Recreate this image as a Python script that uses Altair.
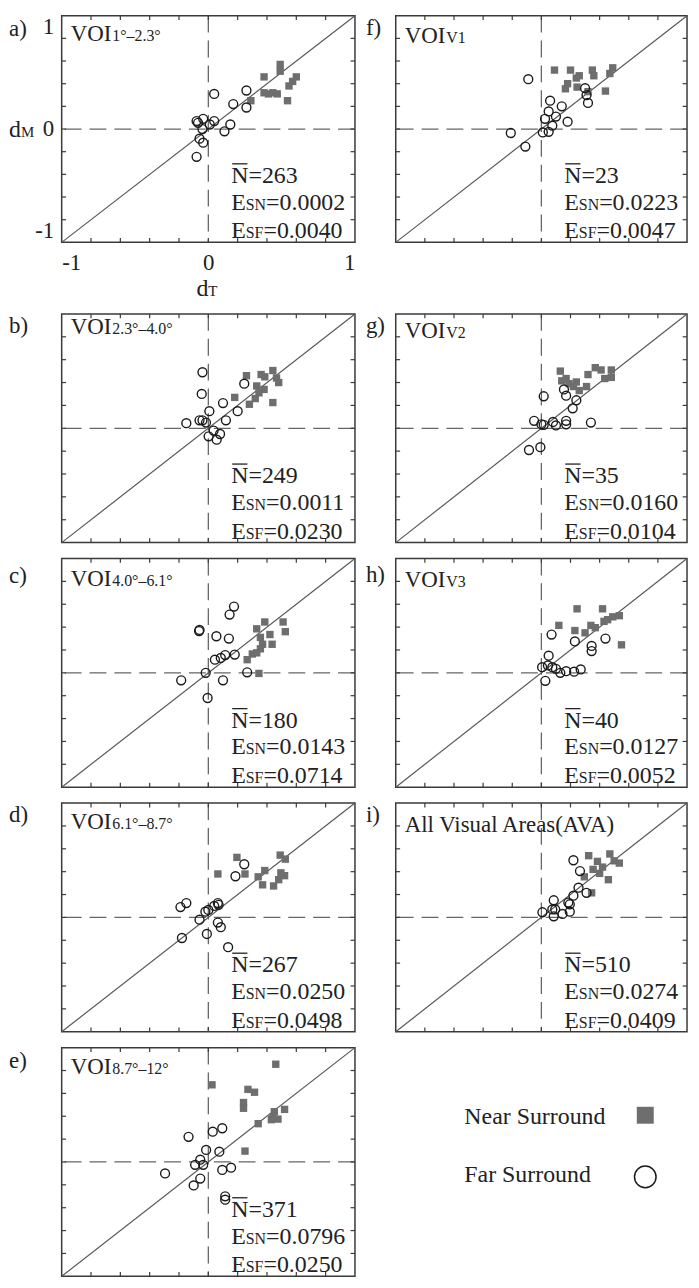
import altair as alt
import pandas as pd

# ---------------- data ----------------
PANELS = ["a", "b", "c", "d", "e", "f", "g", "h", "i"]
TITLE_MAIN = ["VOI", "VOI", "VOI", "VOI", "VOI", "VOI", "VOI", "VOI", "All Visual Areas(AVA)"]
TITLE_SUB = ["1°–2.3°", "2.3°–4.0°", "4.0°–6.1°", "6.1°–8.7°", "8.7°–12°", "V1", "V2", "V3", ""]
N_MEAN = [263, 249, 180, 267, 371, 23, 35, 40, 510]
E_SN = ["0.0002", "0.0011", "0.0143", "0.0250", "0.0796", "0.0223", "0.0160", "0.0127", "0.0274"]
E_SF = ["0.0040", "0.0230", "0.0714", "0.0498", "0.0250", "0.0047", "0.0104", "0.0052", "0.0409"]

a_near_x = [0.38, 0.49, 0.49, 0.60, 0.575, 0.55, 0.38, 0.41, 0.44, 0.47, 0.29, 0.54]
a_near_y = [0.46, 0.57, 0.51, 0.46, 0.42, 0.38, 0.32, 0.31, 0.32, 0.31, 0.25, 0.25]
a_far_x = [0.04, 0.26, 0.17, 0.26, -0.07, -0.035, 0.04, 0.15, 0.11, -0.04, -0.08, -0.06, -0.035, -0.08, 0.01]
a_far_y = [0.31, 0.34, 0.22, 0.19, 0.055, 0.09, 0.07, 0.04, -0.02, 0.0, 0.07, -0.085, -0.12, -0.245, 0.04]

b_near_x = [0.26, 0.18, 0.36, 0.385, 0.44, 0.465, 0.48, 0.33, 0.38, 0.345, 0.32, 0.28, 0.44]
b_near_y = [0.46, 0.27, 0.47, 0.45, 0.505, 0.44, 0.40, 0.37, 0.34, 0.31, 0.26, 0.21, 0.225]
b_far_x = [-0.04, -0.045, 0.245, 0.10, 0.20, 0.007, 0.12, -0.15, -0.06, -0.04, -0.016, 0.036, 0.002, 0.08, 0.057]
b_far_y = [0.49, 0.30, 0.39, 0.22, 0.15, 0.15, 0.07, 0.045, 0.07, 0.07, 0.05, -0.02, -0.07, -0.05, -0.10]

c_near_x = [0.33, 0.385, 0.51, 0.525, 0.42, 0.355, 0.435, 0.37, 0.355, 0.33, 0.30, 0.265, 0.345]
c_near_y = [0.385, 0.445, 0.445, 0.36, 0.335, 0.31, 0.25, 0.25, 0.21, 0.175, 0.165, 0.115, -0.005]
c_far_x = [0.175, 0.145, -0.063, -0.06, 0.055, 0.14, 0.18, 0.115, 0.085, 0.045, -0.018, 0.265, -0.185, 0.10, -0.005]
c_far_y = [0.58, 0.51, 0.365, 0.375, 0.32, 0.30, 0.16, 0.155, 0.13, 0.115, 0.0, 0.005, -0.065, -0.065, -0.22]

d_near_x = [0.065, 0.195, 0.25, 0.34, 0.37, 0.385, 0.445, 0.48, 0.52, 0.525, 0.49, 0.495]
d_near_y = [0.38, 0.525, 0.38, 0.355, 0.285, 0.41, 0.275, 0.33, 0.365, 0.51, 0.545, 0.39]
d_far_x = [0.245, 0.185, -0.19, -0.15, -0.02, 0.0, 0.04, 0.065, 0.07, -0.06, 0.065, 0.085, -0.18, -0.01, 0.135]
d_far_y = [0.465, 0.36, 0.09, 0.125, 0.05, 0.065, 0.10, 0.125, 0.11, -0.02, -0.045, -0.085, -0.18, -0.145, -0.26]

e_near_x = [0.46, 0.025, 0.27, 0.315, 0.24, 0.24, 0.52, 0.45, 0.44, 0.43, 0.475, 0.34, 0.25]
e_near_y = [0.855, 0.675, 0.635, 0.61, 0.52, 0.47, 0.46, 0.44, 0.395, 0.37, 0.375, 0.335, 0.095]
e_far_x = [-0.135, 0.03, 0.095, -0.015, 0.075, -0.055, -0.09, -0.035, -0.295, 0.095, 0.155, -0.055, -0.10, 0.115, 0.115]
e_far_y = [0.22, 0.265, 0.295, 0.105, 0.09, 0.02, -0.025, -0.025, -0.10, -0.07, -0.05, -0.145, -0.205, -0.30, -0.33]

f_near_x = [0.09, 0.20, 0.26, 0.24, 0.35, 0.36, 0.49, 0.47, 0.18, 0.165, 0.245, 0.44, 0.32]
f_near_y = [0.52, 0.52, 0.47, 0.45, 0.52, 0.47, 0.54, 0.49, 0.40, 0.355, 0.37, 0.335, 0.33]
f_far_x = [-0.09, 0.30, 0.31, 0.32, 0.06, 0.14, 0.05, 0.10, 0.025, 0.18, 0.075, 0.01, 0.05, -0.21, -0.11]
f_far_y = [0.44, 0.36, 0.30, 0.23, 0.25, 0.20, 0.155, 0.11, 0.09, 0.065, 0.03, -0.03, -0.025, -0.035, -0.155]

g_near_x = [0.13, 0.14, 0.17, 0.22, 0.24, 0.26, 0.31, 0.32, 0.37, 0.41, 0.435, 0.48, 0.48, 0.19]
g_near_y = [0.50, 0.415, 0.435, 0.365, 0.405, 0.33, 0.365, 0.47, 0.53, 0.51, 0.435, 0.51, 0.445, 0.39]
g_far_x = [0.155, 0.17, 0.016, 0.24, 0.215, -0.05, 0.0, 0.016, 0.08, 0.10, 0.17, 0.17, 0.34, -0.085, -0.007]
g_far_y = [0.34, 0.285, 0.28, 0.245, 0.175, 0.065, 0.035, 0.03, 0.055, 0.025, 0.065, 0.035, 0.05, -0.19, -0.165]

h_near_x = [0.245, 0.42, 0.12, 0.23, 0.30, 0.34, 0.37, 0.43, 0.455, 0.49, 0.535, 0.55]
h_near_y = [0.56, 0.56, 0.415, 0.37, 0.35, 0.415, 0.395, 0.45, 0.465, 0.49, 0.50, 0.245]
h_far_x = [0.07, 0.23, 0.44, 0.345, 0.345, 0.05, 0.005, 0.045, 0.075, 0.10, 0.13, 0.17, 0.225, 0.27, 0.027]
h_far_y = [0.335, 0.275, 0.30, 0.235, 0.19, 0.15, 0.05, 0.065, 0.05, 0.035, 0.0, 0.015, 0.01, 0.03, -0.07]

i_near_x = [0.325, 0.385, 0.42, 0.47, 0.50, 0.535, 0.355, 0.46, 0.345, 0.295, 0.40]
i_near_y = [0.54, 0.49, 0.44, 0.555, 0.495, 0.475, 0.42, 0.33, 0.215, 0.355, 0.385]
i_far_x = [0.22, 0.265, 0.255, 0.31, 0.22, 0.185, 0.195, 0.085, 0.075, 0.095, 0.007, 0.085, 0.145, 0.195]
i_far_y = [0.50, 0.405, 0.26, 0.215, 0.19, 0.13, 0.115, 0.15, 0.07, 0.07, 0.045, 0.01, 0.03, 0.05]

NEAR = {"a": (a_near_x, a_near_y), "b": (b_near_x, b_near_y), "c": (c_near_x, c_near_y),
        "d": (d_near_x, d_near_y), "e": (e_near_x, e_near_y), "f": (f_near_x, f_near_y),
        "g": (g_near_x, g_near_y), "h": (h_near_x, h_near_y), "i": (i_near_x, i_near_y)}
FAR = {"a": (a_far_x, a_far_y), "b": (b_far_x, b_far_y), "c": (c_far_x, c_far_y),
       "d": (d_far_x, d_far_y), "e": (e_far_x, e_far_y), "f": (f_far_x, f_far_y),
       "g": (g_far_x, g_far_y), "h": (h_far_x, h_far_y), "i": (i_far_x, i_far_y)}

DOMAIN = [-1, 1]
AXIS_LABELS = [-1, 0, 1]
TICKS = [-0.8, -0.6, -0.4, -0.2, 0.0, 0.2, 0.4, 0.6, 0.8]
ZERO = [0]
DIAG = [-1, 1]
LEGEND_LABELS = ["Near Surround", "Far Surround"]

# ---------------- style ----------------
SERIF = "Liberation Serif"
INK = "#222222"
FRAME = "#3a3a3a"
GRAY = "#6e6e6e"
TICK_LX = 0.03   # inward tick length (data units) on left/right edges
TICK_LY = 0.038  # inward tick length (data units) on top/bottom edges
# Times-compatible advance widths (em) for placing mixed-size text pieces
W = {"E": 0.611, "S": 0.556, "N": 0.722, "F": 0.556, "V": 0.722, "O": 0.722, "I": 0.333,
     "d": 0.5, "M": 0.889, "T": 0.611}
LABEL_DY = {"a": 20, "b": 19, "c": 25, "d": 19, "e": 20, "f": 19, "g": 19, "h": 24, "i": 19}
TITLE_DY = {"a": 25, "b": 20, "c": 28, "d": 26, "e": 27, "f": 27, "g": 24, "h": 29, "i": 29}


def txt(s, x, y, size, align="left", color=INK, clip=False):
    return alt.Chart(pd.DataFrame({"t": [s]})).mark_text(
        font=SERIF, fontSize=size, align=align, baseline="alphabetic", color=color, clip=clip
    ).encode(x=alt.value(x), y=alt.value(y), text="t:N")


def tick_frame():
    rows = []
    for t in TICKS:
        rows.append({"x": t, "x2": t, "y": -1, "y2": -1 + TICK_LY})
        rows.append({"x": t, "x2": t, "y": 1, "y2": 1 - TICK_LY})
        rows.append({"x": -1, "x2": -1 + TICK_LX, "y": t, "y2": t})
        rows.append({"x": 1, "x2": 1 - TICK_LX, "y": t, "y2": t})
    return pd.DataFrame(rows)


def panel(k, w, h, label_dx, axes=False):
    sc = alt.Scale(domain=DOMAIN, nice=False, zero=False)
    if axes:
        common = dict(values=AXIS_LABELS, ticks=False, domain=False, grid=False,
                      labelFont=SERIF, labelFontSize=23, labelColor=INK, labelFlush=True,
                      labelExpr="replace(format(datum.value, 'd'), '\u2212', '-')", title=None)
        ax_x = alt.Axis(labelPadding=9, **common)
        ax_y = alt.Axis(labelPadding=8, **common)
    else:
        ax_x = None
        ax_y = None

    def X(f):
        return alt.X(f, type="quantitative", scale=sc, axis=ax_x)

    def Y(f):
        return alt.Y(f, type="quantitative", scale=sc, axis=ax_y)

    zdf = pd.DataFrame({"z": ZERO})
    dash = dict(color="#666666", strokeWidth=1.3, strokeDash=[17, 8])
    vline = alt.Chart(zdf).mark_rule(**dash).encode(x=X("z"))
    hline = alt.Chart(zdf).mark_rule(**dash).encode(y=Y("z"))
    diag = alt.Chart(pd.DataFrame({"d": DIAG})).mark_line(color="#585858", strokeWidth=1.2).encode(
        x=X("d"), y=Y("d"))
    ticks = alt.Chart(tick_frame()).mark_rule(color=FRAME, strokeWidth=1.2).encode(
        x=X("x"), x2="x2", y=Y("y"), y2="y2")
    nx, ny = NEAR[k]
    fx, fy = FAR[k]
    near = alt.Chart(pd.DataFrame({"x": nx, "y": ny})).mark_point(
        shape="square", filled=True, size=55, color=GRAY, opacity=1).encode(x=X("x"), y=Y("y"))
    far = alt.Chart(pd.DataFrame({"x": fx, "y": fy})).mark_point(
        shape="circle", filled=False, size=80, color="#1a1a1a", strokeWidth=1.4, opacity=1
    ).encode(x=X("x"), y=Y("y"))

    idx = PANELS.index(k)
    layers = [vline, hline, diag, ticks, near, far]
    # panel letter
    layers.append(txt(k + ")", label_dx, LABEL_DY[k], 23))
    # title with subscript
    tx, ty = 9, TITLE_DY[k]
    layers.append(txt(TITLE_MAIN[idx], tx, ty, 23, clip=True))
    if TITLE_SUB[idx]:
        wmain = sum(W[c] for c in TITLE_MAIN[idx]) * 23
        layers.append(txt(TITLE_SUB[idx], tx + wmain + 1, ty, 16, clip=True))
    # statistics
    fs, fss = 24, 16
    x0 = w / 2 + 23
    y1, y2, y3 = h - 60, h - 33, h - 4
    layers.append(txt("N=" + str(N_MEAN[idx]), x0, y1, fs, clip=True))
    layers.append(alt.Chart(pd.DataFrame({"k": [0]})).mark_rule(color=INK, strokeWidth=1.3).encode(
        x=alt.value(x0 + 1), x2=alt.value(x0 + W["N"] * fs - 1), y=alt.value(y1 - 19)))
    for sub, val, yy in (("SN", E_SN[idx], y2), ("SF", E_SF[idx], y3)):
        wE = W["E"] * fs
        wsub = sum(W[c] for c in sub) * fss
        layers.append(txt("E", x0, yy, fs, clip=True))
        layers.append(txt(sub, x0 + wE, yy, fss, clip=True))
        layers.append(txt("=" + val, x0 + wE + wsub, yy, fs, clip=True))
    if axes:
        layers.append(txt("d", -53, h / 2 + 8, 24))
        layers.append(txt("M", -53 + W["d"] * 24, h / 2 + 8, 15))
        layers.append(txt("d", w / 2 - 12, h + 54, 24))
        layers.append(txt("T", w / 2 - 12 + W["d"] * 24, h + 54, 15))
    return alt.layer(*layers).properties(width=w, height=h)


def legend_panel(w, h):
    ldf = pd.DataFrame({"lab": LEGEND_LABELS})
    t1 = txt(LEGEND_LABELS[0], 69, 77, 24)
    t2 = txt(LEGEND_LABELS[1], 69, 135, 24)
    sq = alt.Chart(ldf.iloc[[0]]).mark_point(shape="square", filled=True, size=290, color=GRAY,
                                             opacity=1).encode(x=alt.value(251), y=alt.value(68))
    ci = alt.Chart(ldf.iloc[[1]]).mark_point(shape="circle", filled=False, size=470, color="#1a1a1a",
                                             strokeWidth=1.5, opacity=1).encode(x=alt.value(251),
                                                                               y=alt.value(130))
    return alt.layer(t1, t2, sq, ci).properties(width=w, height=h,
                                                view=alt.ViewBackground(stroke="transparent"))


LW, RW = 295, 293
H1, H = 228, 230
row1 = alt.hconcat(panel("a", LW, H1, -53, axes=True), panel("f", RW, H1, -30),
                   spacing=41, bounds="flush")
rows = []
for lk, rk in (("b", "g"), ("c", "h"), ("d", "i")):
    rows.append(alt.hconcat(panel(lk, LW, H, -53), panel(rk, RW, H, -30), spacing=41, bounds="flush"))
rows.append(alt.hconcat(panel("e", LW, H, -53), legend_panel(RW, H), spacing=41, bounds="flush"))
rest = alt.vconcat(*rows, spacing=8)

chart = alt.vconcat(row1, rest, spacing=8).properties(
    padding=0, background="white").configure_view(stroke=FRAME, strokeWidth=1.5)

chart.save("out.html", embed_options={"renderer": "svg", "actions": False})
